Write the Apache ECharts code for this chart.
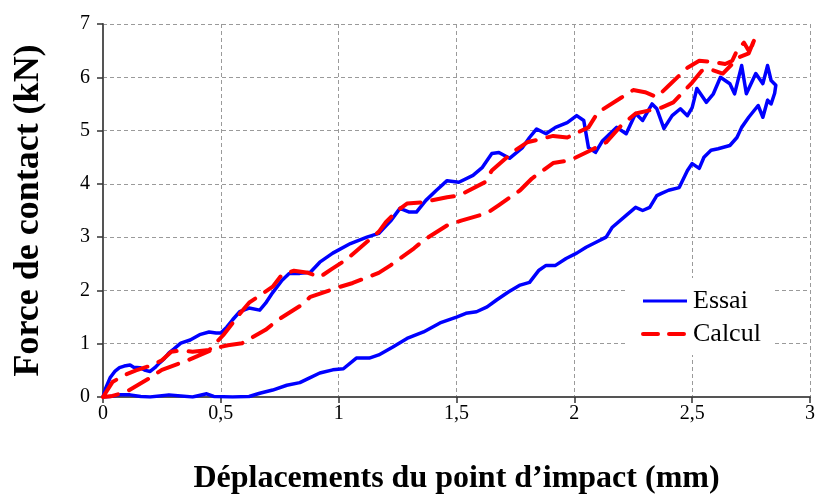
<!DOCTYPE html>
<html>
<head>
<meta charset="utf-8">
<script src="https://cdn.jsdelivr.net/npm/echarts@6/dist/echarts.min.js"></script>
<style>
  html, body { margin: 0; padding: 0; background: #fff; }
  #chart { width: 818px; height: 500px; }
</style>
</head>
<body>
<div id="chart"></div>
<script>
// Tick labels (French decimal comma)
const xTickLabels = ['0', '0,5', '1', '1,5', '2', '2,5', '3'];
const yTickLabels = ['0', '1', '2', '3', '4', '5', '6', '7'];

// Essai (test): loading then unloading path, displacement (mm) / force (kN)
const essaiDisp = [
  0, 0.01, 0.03, 0.05, 0.07, 0.09, 0.115, 0.13, 0.157, 0.18, 0.2, 0.22, 0.24, 0.26, 0.28, 0.3,
  0.33, 0.37, 0.41, 0.45, 0.48, 0.5, 0.525, 0.55, 0.58, 0.62, 0.665, 0.69, 0.72, 0.76, 0.79,
  0.835, 0.88, 0.92, 0.975, 1.05, 1.12, 1.17, 1.22, 1.26, 1.3, 1.33, 1.37, 1.415, 1.46, 1.51,
  1.57, 1.61, 1.65, 1.68, 1.725, 1.78, 1.81, 1.84, 1.88, 1.92, 1.97, 2.01, 2.04, 2.06, 2.09,
  2.12, 2.18, 2.22, 2.26, 2.29, 2.33, 2.35, 2.38, 2.415, 2.45, 2.48, 2.5, 2.52, 2.56, 2.59,
  2.62, 2.66, 2.68, 2.71, 2.73, 2.77, 2.8, 2.82, 2.835, 2.855, 2.85,
  2.835, 2.82, 2.8, 2.78, 2.74, 2.71, 2.69, 2.66, 2.61, 2.58, 2.55, 2.53, 2.5, 2.48, 2.445,
  2.4, 2.37, 2.35, 2.32, 2.29, 2.26, 2.22, 2.16, 2.135, 2.09, 2.05, 2.01, 1.965, 1.92, 1.88,
  1.85, 1.81, 1.77, 1.72, 1.67, 1.63, 1.585, 1.54, 1.5, 1.43, 1.36, 1.29, 1.23, 1.17, 1.13,
  1.075, 1.02, 0.975, 0.92, 0.877, 0.835, 0.78, 0.72, 0.665, 0.62, 0.55, 0.47, 0.44, 0.38,
  0.28, 0.2, 0.16, 0.115, 0.07, 0.03, 0
];
const essaiForce = [
  0, 0.15, 0.36, 0.48, 0.55, 0.58, 0.6, 0.56, 0.55, 0.5, 0.48, 0.55, 0.64, 0.72, 0.83, 0.9,
  1.01, 1.07, 1.17, 1.22, 1.2, 1.2, 1.31, 1.45, 1.6, 1.67, 1.63, 1.76, 1.96, 2.19, 2.32,
  2.32, 2.34, 2.53, 2.7, 2.88, 3.0, 3.07, 3.3, 3.54, 3.47, 3.47, 3.69, 3.88, 4.06, 4.03,
  4.16, 4.31, 4.57, 4.59, 4.48, 4.68, 4.87, 5.03, 4.94, 5.06, 5.15, 5.28, 5.19, 4.68, 4.59,
  4.81, 5.06, 4.94, 5.32, 5.19, 5.5, 5.41, 5.04, 5.28, 5.41, 5.28, 5.43, 5.79, 5.53, 5.69,
  6.0, 5.88, 5.69, 6.22, 5.69, 6.07, 5.88, 6.22, 5.94, 5.85, 5.7,
  5.5, 5.57, 5.25, 5.47, 5.25, 5.06, 4.87, 4.72, 4.66, 4.63, 4.5, 4.29, 4.38, 4.25, 3.93,
  3.88, 3.82, 3.78, 3.56, 3.5, 3.56, 3.41, 3.18, 3.0, 2.9, 2.81, 2.7, 2.6, 2.47, 2.47,
  2.38, 2.15, 2.1, 1.97, 1.82, 1.69, 1.6, 1.57, 1.5, 1.39, 1.22, 1.1, 0.94, 0.79, 0.73,
  0.73, 0.53, 0.51, 0.45, 0.36, 0.27, 0.22, 0.13, 0.07, 0.01, 0, 0.01, 0.06, 0,
  0.04, 0, 0.01, 0.04, 0.04, 0.01, 0
];

// Calcul (simulation): loading then unloading path
const calculDisp = [
  0, 0.04, 0.09, 0.14, 0.21, 0.25, 0.29, 0.33, 0.38, 0.45, 0.51, 0.58, 0.62, 0.67, 0.72,
  0.76, 0.81, 0.87, 0.92, 0.97, 1.03, 1.08, 1.17, 1.2, 1.25, 1.29, 1.35, 1.46, 1.51, 1.62,
  1.65, 1.74, 1.8, 1.91, 1.97, 2.06, 2.1, 2.2, 2.25, 2.3, 2.35, 2.4, 2.48, 2.53, 2.6, 2.64,
  2.67, 2.69, 2.72, 2.74, 2.755, 2.77,
  2.74, 2.7, 2.67, 2.63, 2.57, 2.54, 2.5, 2.42, 2.37, 2.26, 2.2, 2.135, 2.07, 1.98, 1.91,
  1.82, 1.77, 1.68, 1.63, 1.52, 1.46, 1.36, 1.32, 1.22, 1.17, 1.06, 1.0, 0.88, 0.84, 0.74,
  0.69, 0.59, 0.53, 0.48, 0.36, 0.25, 0.2, 0.1, 0.04, 0
];
const calculForce = [
  0, 0.28, 0.41, 0.5, 0.6, 0.69, 0.85, 0.87, 0.85, 0.88, 1.16, 1.56, 1.77, 1.92, 2.07,
  2.3, 2.37, 2.33, 2.25, 2.4, 2.57, 2.76, 3.1, 3.28, 3.5, 3.63, 3.65, 3.75, 3.78, 4.03,
  4.25, 4.6, 4.78, 4.9, 4.87, 5.06, 5.34, 5.62, 5.76, 5.72, 5.63, 5.84, 6.18, 6.31, 6.28, 6.25,
  6.31, 6.5, 6.65, 6.5, 6.6, 6.78,
  6.45, 6.38, 6.25, 6.07, 6.16, 6.12, 5.9, 5.53, 5.43, 5.32, 5.1, 4.78, 4.63, 4.44, 4.39,
  4.1, 3.88, 3.6, 3.45, 3.31, 3.22, 2.94, 2.79, 2.47, 2.33, 2.14, 2.06, 1.88, 1.72, 1.44,
  1.26, 1.01, 0.97, 0.92, 0.69, 0.51, 0.36, 0.1, 0.02, 0
];

const zip = (xs, ys) => xs.map((x, i) => [x, ys[i]]);

const serif = '"Liberation Serif", "Times New Roman", serif';
const gridLine = { show: true, lineStyle: { color: '#9a9a9a', type: [4, 3], width: 1 } };
const axisLine = { show: true, lineStyle: { color: '#555', width: 2 } };

const chart = echarts.init(document.getElementById('chart'), null, { renderer: 'canvas' });
chart.setOption({
  animation: false,
  backgroundColor: '#fff',
  grid: { left: 103, right: 7, top: 24, bottom: 102, containLabel: false },
  xAxis: {
    type: 'value', min: 0, max: 3, interval: 0.5,
    axisLine: axisLine,
    axisTick: { show: true, inside: false, length: 6, lineStyle: { color: '#333', width: 1.5 } },
    axisLabel: {
      margin: 7, fontFamily: serif, fontSize: 20, color: '#000',
      formatter: v => xTickLabels[Math.round(v / 0.5)]
    },
    splitLine: gridLine,
    name: 'Déplacements du point d’impact (mm)',
    nameLocation: 'middle', nameGap: 66,
    nameTextStyle: { fontFamily: serif, fontSize: 32, fontWeight: 'bold', color: '#000' }
  },
  yAxis: {
    type: 'value', min: 0, max: 7, interval: 1,
    axisLine: axisLine,
    axisTick: { show: true, inside: false, length: 6, lineStyle: { color: '#333', width: 1.5 } },
    axisLabel: {
      margin: 13, fontFamily: serif, fontSize: 20, color: '#000',
      formatter: v => yTickLabels[Math.round(v)]
    },
    splitLine: gridLine,
    name: 'Force de contact (kN)',
    nameLocation: 'middle', nameGap: 56, nameRotate: 90,
    nameTextStyle: { fontFamily: serif, fontSize: 36, fontWeight: 'bold', color: '#000' }
  },
  legend: {
    orient: 'vertical', left: 628, top: 278,
    padding: [10, 12, 8, 13],
    backgroundColor: '#fff',
    itemWidth: 44, itemHeight: 14, itemGap: 7,
    itemStyle: { opacity: 0 },
    textStyle: { fontFamily: serif, fontSize: 26, lineHeight: 26, color: '#000', padding: [0, 0, 0, 1] },
    data: [
      { name: 'Essai', lineStyle: { width: 3 } },
      { name: 'Calcul', lineStyle: { type: [15, 11], width: 4 } }
    ]
  },
  series: [
    {
      name: 'Essai', type: 'line', data: zip(essaiDisp, essaiForce),
      symbol: 'none', smooth: false, z: 3,
      lineStyle: { color: '#0000ff', width: 3.5, join: 'round' },
      itemStyle: { color: '#0000ff' }
    },
    {
      name: 'Calcul', type: 'line', data: zip(calculDisp, calculForce),
      symbol: 'none', smooth: false, z: 4,
      lineStyle: { color: '#ff0000', width: 4, type: [22, 12], cap: 'round', join: 'round' },
      itemStyle: { color: '#ff0000' }
    }
  ]
});
</script>
</body>
</html>
